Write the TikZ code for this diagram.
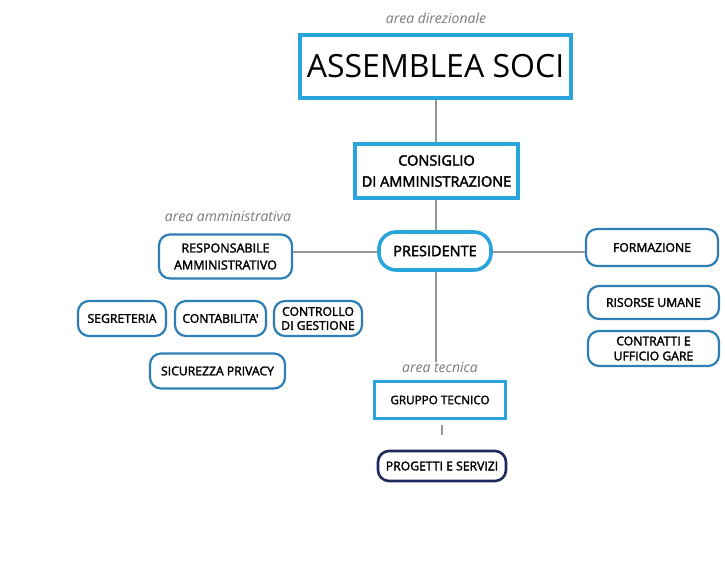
\documentclass[tikz,border=0pt]{standalone}
\usepackage{fontspec}
\setmainfont{Open Sans}
\newfontfamily\boxfont[FakeBold=2.2]{Open Sans}
\newfontfamily\bigfont{Open Sans}
\newfontfamily\areafont{Open Sans}
\definecolor{lightblue}{HTML}{2AA5DB}
\definecolor{steelblue}{HTML}{2E7FB6}
\definecolor{navy}{HTML}{1E2A5C}
\definecolor{linegray}{HTML}{969696}
\definecolor{areagray}{HTML}{7A7A7A}
\tikzset{
  sqbox/.style={draw=lightblue, line width=3.6pt, fill=white, inner sep=0pt, align=center, font=\boxfont\fontsize{14.5}{21}\selectfont},
  rbox/.style={draw=steelblue, line width=2.2pt, rounded corners=11pt, fill=white, inner sep=0pt, align=center, font=\boxfont\fontsize{12.2}{15}\selectfont},
  conn/.style={draw=linegray, line width=1.4pt},
  arealabel/.style={font=\areafont\itshape\fontsize{14}{16}\selectfont, text=areagray, inner sep=0pt}
}
\begin{document}
\begin{tikzpicture}[x=1pt,y=-1pt]
\useasboundingbox[fill=white] (0,0) rectangle (725,568);
% labels
\node[arealabel] (lbldir) at (436,18) {area direzionale};
\node[arealabel] (lbladm) at (228,216) {area amministrativa};
\node[arealabel] (lbltec) at (440,367) {area tecnica};
% main boxes
\node[sqbox, minimum width=271pt, minimum height=63pt, font=\bigfont\fontsize{32}{34}\selectfont] (assemblea) at (435.5,66.5) {ASSEMBLEA SOCI};
\node[sqbox, minimum width=163pt, minimum height=54pt] (consiglio) at (436.5,171) {CONSIGLIO\\DI AMMINISTRAZIONE};
\node[sqbox, rounded corners=17pt, minimum width=112pt, minimum height=38pt] (presidente) at (435,251) {PRESIDENTE};
% administrative
\node[rbox, minimum width=133pt, minimum height=44pt, font=\boxfont\fontsize{12.5}{17}\selectfont] (respons) at (225.5,256.5) {RESPONSABILE\\AMMINISTRATIVO};
\node[rbox, minimum width=88pt, minimum height=35pt] (segreteria) at (122,318.5) {SEGRETERIA};
\node[rbox, minimum width=91pt, minimum height=35pt] (contab) at (220.5,318.5) {CONTABILITA'};
\node[rbox, minimum width=88pt, minimum height=35pt, font=\boxfont\fontsize{12.2}{14}\selectfont] (controllo) at (318,318.5) {CONTROLLO\\DI GESTIONE};
\node[rbox, minimum width=135pt, minimum height=35pt] (sicurezza) at (217.5,371) {SICUREZZA PRIVACY};
% right side
\node[rbox, minimum width=132pt, minimum height=37pt] (formazione) at (652,247.5) {FORMAZIONE};
\node[rbox, minimum width=131pt, minimum height=33pt] (risorse) at (653.5,302.5) {RISORSE UMANE};
\node[rbox, minimum width=131pt, minimum height=35pt] (contratti) at (653.5,348.5) {CONTRATTI E\\UFFICIO GARE};
% technical
\node[sqbox, line width=3.2pt, minimum width=131pt, minimum height=37pt, font=\boxfont\fontsize{11.7}{13}\selectfont] (gruppo) at (440,400) {GRUPPO TECNICO};
\node[rbox, draw=navy, line width=2.6pt, minimum width=128pt, minimum height=30pt] (progetti) at (442,466) {PROGETTI E SERVIZI};
\coordinate (tecend) at (436,362);
% connectors
\draw[conn] (assemblea.south -| 436,0) -- (consiglio.north -| 436,0);
\draw[conn] (consiglio.south -| 436,0) -- (presidente.north -| 436,0);
\draw[conn] (presidente.south -| 436,0) -- (tecend);
\draw[conn] (respons.east |- 0,252) -- (presidente.west |- 0,252);
\draw[conn] (presidente.east |- 0,252) -- (formazione.west |- 0,252);
\draw[conn, shorten <=5pt, shorten >=15pt] (gruppo.south -| 442,0) -- (progetti.north -| 442,0);
\end{tikzpicture}
\end{document}
